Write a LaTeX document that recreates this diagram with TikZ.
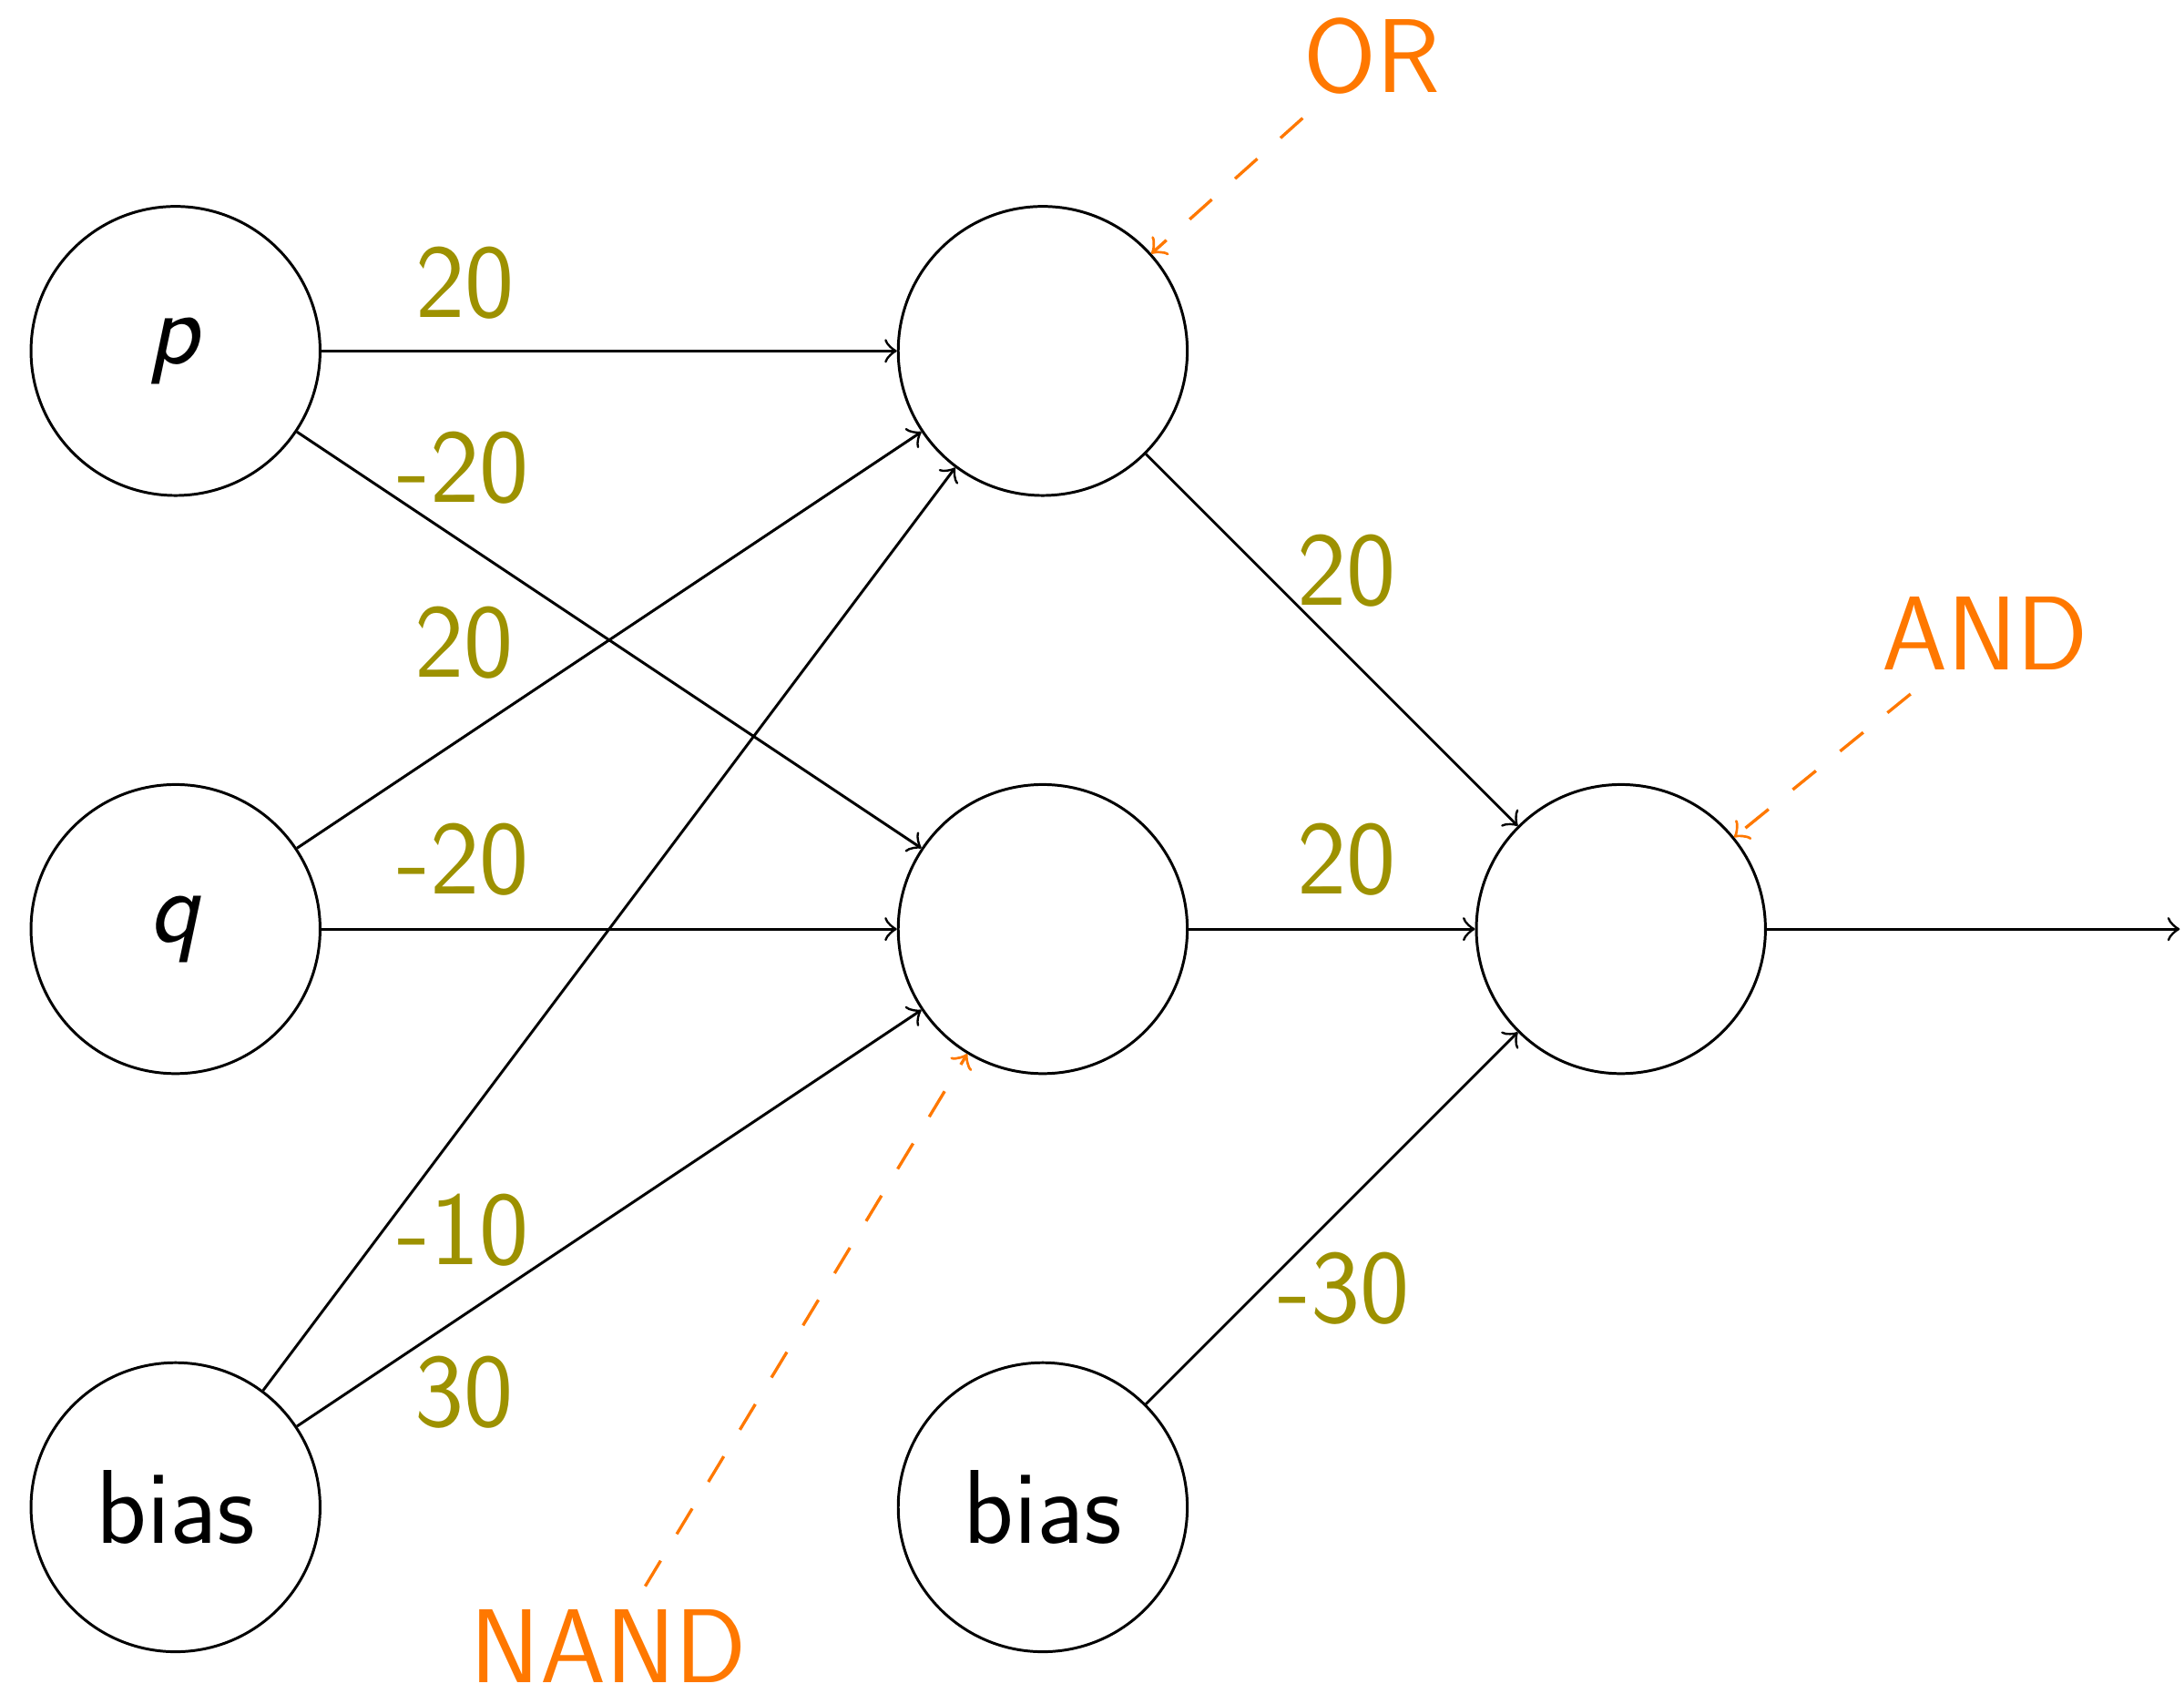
\documentclass[tikz,border=0pt]{standalone}
\usepackage{fontspec}
\definecolor{wcol}{RGB}{157,145,0}
\definecolor{ocol}{RGB}{255,120,0}
\begin{document}
\begin{tikzpicture}[
  font=\sffamily\fontsize{15.5}{18}\selectfont,
  neuron/.style={circle, draw, minimum size=1.5cm, inner sep=0pt},
  conn/.style={->},
  wt/.style={text=wcol, inner sep=0pt},
  tag/.style={text=ocol},
  tagline/.style={->, draw=ocol, line width=0.45pt, dash pattern=on 4.4pt off 4.6pt},
]
\useasboundingbox (-0.911,-6.968) rectangle (10.422,1.821);
\node[neuron] (p) at (0,0) {\textit{p}};
\node[neuron] (q) at (0,-3) {\textit{q}};
\node[neuron] (b1) at (0,-6) {bias};
\node[neuron] (h1) at (4.5,0) {};
\node[neuron] (h2) at (4.5,-3) {};
\node[neuron] (b2) at (4.5,-6) {bias};
\node[neuron] (o) at (7.5,-3) {};
\coordinate (out) at (10.40,-3);

\draw[conn] (p) -- node[wt, pos=0.249, yshift=0.354cm] {20} (h1);
\draw[conn] (p) -- node[wt, pos=0.266, yshift=0.386cm] {-20} (h2);
\draw[conn] (q) -- node[wt, pos=0.268, yshift=0.485cm] {20} (h1);
\draw[conn] (q) -- node[wt, pos=0.246, yshift=0.362cm] {-20} (h2);
\draw[conn] (b1) -- node[wt, pos=0.289, yshift=-0.553cm] {-10} (h1);
\draw[conn] (b1) -- node[wt, pos=0.268, yshift=-0.403cm] {30} (h2);
\draw[conn] (h1) -- node[wt, pos=0.540, yshift=0.436cm] {20} (o);
\draw[conn] (h2) -- node[wt, pos=0.552, yshift=0.362cm] {20} (o);
\draw[conn] (b2) -- node[wt, pos=0.533, yshift=-0.429cm] {-30} (o);
\draw[conn] (o) -- (out);

\node[tag] (tor) at (6.208,1.530) {OR};
\node[tag] (tand) at (9.389,-1.467) {AND};
\node[tag] (tnand) at (2.248,-6.723) {NAND};
\draw[tagline] (tor) -- (h1);
\draw[tagline] (tand) -- (o);
\draw[tagline] (tnand) -- (h2);
\end{tikzpicture}
\end{document}
